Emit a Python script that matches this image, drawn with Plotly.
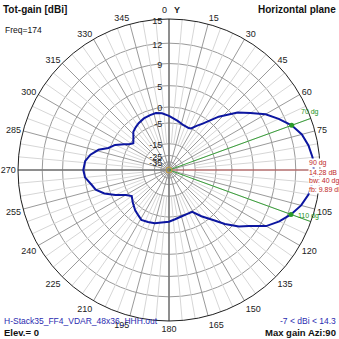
import plotly.graph_objects as go

# ---------------- data ----------------
azimuth_deg = [0, 10, 18, 25, 28, 32, 36, 43, 50, 55, 60, 65, 70, 75, 80, 85, 90,
               95, 100, 105, 110, 115, 120, 125, 129, 134, 139, 145, 151, 158, 166,
               173, 180, 188, 195, 202, 209, 214, 220, 228, 235, 240, 245, 250, 255,
               259, 265, 270, 276, 281, 286, 290, 295, 300, 303, 307, 312, 317, 322,
               327, 334, 341, 347, 353, 360]
gain_dbi = [-2.6, -4.0, -5.0, -5.3, -5.0, -3.3, -1.6, 2.5, 6.0, 7.8, 9.8, 11.2, 12.5,
            13.4, 13.9, 14.2, 14.28, 14.2, 13.9, 13.3, 12.4, 11.3, 9.9, 7.5, 6.1, 3.6,
            0.8, -1.9, -4.7, -4.8, -4.6, -4.1, -3.4, -3.0, -2.3, -2.0, -1.7, -2.4,
            -3.1, -4.4, -5.6, -4.0, -1.1, 1.5, 3.2, 3.8, 5.0, 5.28, 5.0, 4.1, 2.6, 0.4,
            -1.0, -3.4, -4.9, -5.9, -4.7, -3.2, -2.6, -2.1, -1.6, -1.4, -1.3, -1.7, -2.6]

ring_db = [15, 12, 9, 5, 0, -5, -15, -25, -35]
ring_labels = ["15", "12", "9", "5", "0", "-5", "-15", "-25", "-35"]
angle_ticks = list(range(0, 360, 15))
angle_labels = [str(a) for a in angle_ticks]
angle_labels[0] = ""      # "0" and "Y" drawn as separate texts
angle_labels[6] = ""      # 90 hidden behind the marker texts
bw_angles = [70, 110]
max_azi = 90
max_gain = 14.28
front_back = 9.89
freq = 174
min_dbi = -7
max_dbi = 14.3
file_name = "H-Stack35_FF4_VDAR_48x36_HHH.out"
elev = 0


def arrl(db):
    """ARRL log scale: 0.89 per 2 dB below the outer ring (15 dB)."""
    return 0.89 ** ((15 - db) / 2)


W = H = 339
ML, MR, MT, MB = 18, 19, 19, 18
PW = W - ML - MR
PH = H - MT - MB


def px(x, y):
    return (x - ML) / PW, 1 - (y - MT) / PH


fig = go.Figure()

# light 5-degree spokes
sr, st = [], []
for a in range(0, 360, 5):
    if a % 15:
        sr += [arrl(-15), 1, None]
        st += [a, a, None]
fig.add_trace(go.Scatterpolar(r=sr, theta=st, mode="lines",
                              line=dict(color="#d6d6d6", width=1), hoverinfo="skip"))

# main axis lines
fig.add_trace(go.Scatterpolar(r=[1, 0, 1], theta=[0, 0, 180], mode="lines",
                              line=dict(color="#7a7a7a", width=1.5), hoverinfo="skip"))
fig.add_trace(go.Scatterpolar(r=[0, 1], theta=[270, 270], mode="lines",
                              line=dict(color="#7a7a7a", width=1.5), hoverinfo="skip"))
# max gain direction (red)
fig.add_trace(go.Scatterpolar(r=[0, 1], theta=[max_azi, max_azi], mode="lines",
                              line=dict(color="#c05858", width=1), hoverinfo="skip"))
# beamwidth lines (green)
fig.add_trace(go.Scatterpolar(r=[0, 1, None, 0, 1],
                              theta=[bw_angles[0], bw_angles[0], None, bw_angles[1], bw_angles[1]],
                              mode="lines", line=dict(color="#3aa03a", width=1), hoverinfo="skip"))

# pattern
fig.add_trace(go.Scatterpolar(r=[arrl(g) for g in gain_dbi], theta=azimuth_deg, mode="lines",
                              line=dict(color="#0c16a0", width=2)))

# beamwidth markers
bw_gain = [gain_dbi[azimuth_deg.index(a)] for a in bw_angles]
fig.add_trace(go.Scatterpolar(r=[arrl(g) for g in bw_gain], theta=bw_angles, mode="markers",
                              marker=dict(color="#2a9a2a", size=5)))
# centre marker
fig.add_trace(go.Scatterpolar(r=[0], theta=[0], mode="markers",
                              marker=dict(color="#c8a040", size=6, symbol="circle-open")))

font = "Liberation Sans, Arial, sans-serif"
ann = []


def text(x, y, s, size=9, color="#111", anchor="left", bg=None):
    ax, ay = px(x, y)
    d = dict(x=ax, y=ay, xref="paper", yref="paper", text=s, showarrow=False,
             xanchor=anchor, yanchor="middle", font=dict(family=font, size=size, color=color))
    if bg:
        d["bgcolor"] = bg
        d["borderpad"] = 0
    ann.append(d)


text(1, 10, "<b>Tot-gain [dBi]</b>", 10)
text(3, 30, f"Freq={freq}", 8.5)
text(338, 10, "<b>Horizontal plane</b>", 10, anchor="right")
text(164, 10, "0", 9, "#222", anchor="center")
text(176.5, 10, "<b>Y</b>", 9, "#222", anchor="center")
text(2, 321, file_name, 8.5, "#2a2ab0")
text(2, 332, f"<b>Elev.= {elev}</b>", 9.5)
text(338, 321, f"{min_dbi} &lt; dBi &lt; {max_dbi}", 8.5, "#2a2ab0", anchor="right")
text(338, 332, f"<b>Max gain Azi:{max_azi}</b>", 9.5, anchor="right")

red = "#c02828"
text(308, 162.5, f"{max_azi} dg", 7, red, bg="white")
text(308, 172, f"{max_gain:.2f} dB", 7, red, bg="white")
text(308, 181, f"bw: {bw_angles[1] - bw_angles[0]} dg", 7, red, bg="white")
text(308, 189.5, f"fb: {front_back:.2f} dB", 7, red, bg="white")
green = "#219021"
text(299, 112, f"{bw_angles[0]} dg", 7, green)
text(296, 216, f"{bw_angles[1]} dg", 7, green)

fig.update_layout(
    width=W, height=H, margin=dict(l=ML, r=MR, t=MT, b=MB),
    paper_bgcolor="white", showlegend=False, annotations=ann,
    font=dict(family=font, size=9, color="#222"),
    polar=dict(
        bgcolor="white",
        radialaxis=dict(range=[0, 1], tickvals=[arrl(d) for d in ring_db], ticktext=ring_labels,
                        angle=90, side="counterclockwise", showline=False, ticks="",
                        gridcolor="#9a9a9a", gridwidth=1,
                        tickfont=dict(size=9, color="#222", family=font)),
        angularaxis=dict(rotation=90, direction="clockwise", tickvals=angle_ticks,
                         ticktext=angle_labels, gridcolor="#9a9a9a", gridwidth=1,
                         showline=True, linecolor="#202020", linewidth=1, ticks="",
                         tickfont=dict(size=9, color="#222", family=font)),
    ),
)

fig.write_html("out.html")
